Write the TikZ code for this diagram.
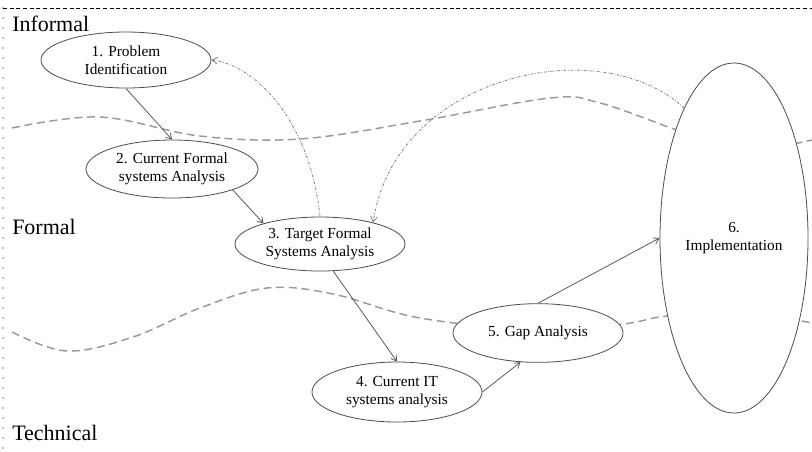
\documentclass[tikz,border=0pt]{standalone}
\usepackage{fontspec}
\setmainfont{Liberation Serif}
\usetikzlibrary{shapes.geometric,arrows.meta}

\begin{document}
\begin{tikzpicture}[x=0.75pt,y=-0.75pt,
  stage/.style={ellipse, draw=black!70, fill=white, line width=0.6pt, inner sep=0pt,
                align=center, font=\fontsize{11.5}{13.5}\selectfont},
  flow/.style={draw=black!65, line width=0.6pt, -{Straight Barb[length=4pt,width=5pt]}},
  feedback/.style={draw=black!50, line width=0.6pt,
                   dash pattern=on 2pt off 1.2pt on 0.6pt off 1.2pt,
                   -{Straight Barb[length=4pt,width=5pt]}},
  boundary/.style={draw=black!40, line width=1.1pt, dash pattern=on 6pt off 3.5pt},
  level/.style={font=\fontsize{16.5}{18}\selectfont, anchor=base west, inner sep=0pt}]

\useasboundingbox (0,0) rectangle (812,451);

% frame: dashed top edge, dotted left edge
\draw[line width=0.7pt, dash pattern=on 3pt off 2pt] (3,8) -- (812,8);
\draw[line width=0.9pt, line cap=round, dash pattern=on 0pt off 7.5pt] (3,8) -- (3,451);

% level boundaries
\draw[boundary] plot[smooth, tension=0.6] coordinates
  {(12,128) (100,117) (200,136) (300,139) (420,121) (550,98) (600,103) (677,130) (740,150) (812,140)};
\draw[boundary] plot[smooth, tension=0.6] coordinates
  {(12,332) (67,351) (133,337) (200,308) (267,288) (333,294) (420,318) (540,330) (623,324) (667,316) (740,312) (812,323)};

% level labels
\node[level] (informal) at (12,31) {Informal};
\node[level] (formal) at (12,234) {Formal};
\node[level] (technical) at (12,440) {Technical};

% stages
\node[stage, minimum width=127.5pt, minimum height=42pt] (n1) at (126,60) {1. Problem\\Identification};
\node[stage, minimum width=129pt, minimum height=43.5pt] (n2) at (172,169) {2. Current Formal\\systems Analysis};
\node[stage, minimum width=127.5pt, minimum height=40.5pt] (n3) at (320,244) {3. Target Formal\\Systems Analysis};
\node[stage, minimum width=127.5pt, minimum height=45pt] (n4) at (397,392) {4. Current IT\\systems analysis};
\node[stage, minimum width=127.5pt, minimum height=44pt] (n5) at (538,333) {5. Gap Analysis};
\node[stage, minimum width=111pt, minimum height=262.5pt] (n6) at (734,238) {6.\\Implementation};

% main flow
\draw[flow] (n1.south) -- (n2.north);
\draw[flow] (n2.-19) -- (n3.160);
\draw[flow] (n3.-64) -- (n4.north);
\draw[flow] (n4.east) -- (n5.-121);
\draw[flow] (n5.north) -- (n6.west);

% feedback loops
\draw[feedback] (n3.north) .. controls (310,120) and (255,65) .. (n1.east);
\draw[feedback] (n6.111) .. controls (600,30) and (395,75) .. (n3.22);

\end{tikzpicture}
\end{document}
